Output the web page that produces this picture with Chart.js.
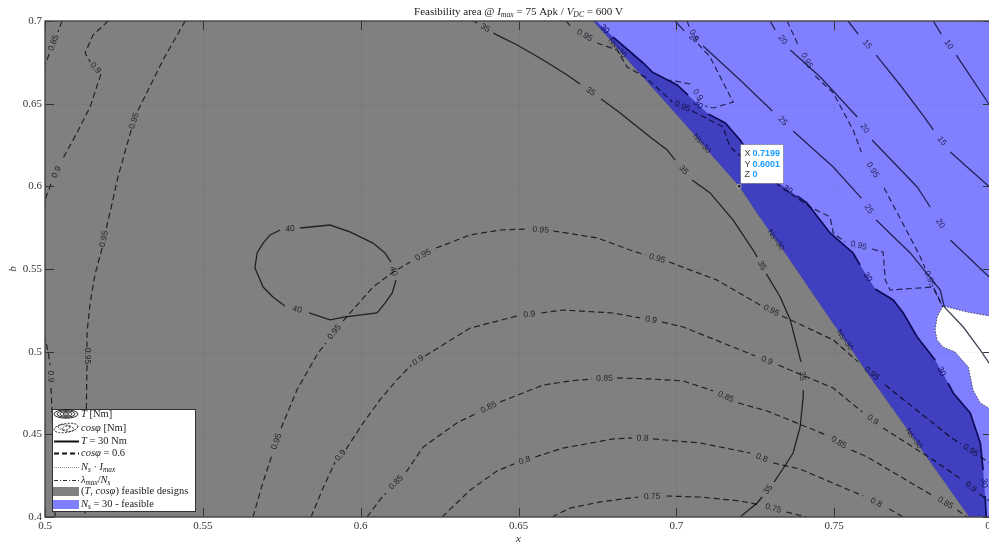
<!DOCTYPE html>
<html>
<head>
<meta charset="utf-8">
<script src="https://cdn.jsdelivr.net/npm/chart.js@4.4.1/dist/chart.umd.min.js"></script>
<style>
  html, body { margin: 0; padding: 0; background: #fff; overflow: hidden; }
  #wrap { position: relative; width: 1005px; height: 544px; }
</style>
</head>
<body>
<div id="wrap"><canvas id="c" width="1005" height="544"></canvas></div>
<script>
// ---- axes ----
const X_TICK_VALUES = [0.5, 0.55, 0.6, 0.65, 0.7, 0.75, 0.8];
const X_TICK_LABELS = ['0.5', '0.55', '0.6', '0.65', '0.7', '0.75', '0.8'];
const Y_TICK_VALUES = [0.4, 0.45, 0.5, 0.55, 0.6, 0.65, 0.7];
const Y_TICK_LABELS = ['0.4', '0.45', '0.5', '0.55', '0.6', '0.65', '0.7'];

// GAP marks where a contour line is broken for its level label
const GAP = null;

// ---- region edges (x, b) ----
// edge of the (T, cos phi) feasible set, labelled Ns=30
const BOUNDARY = [[0.6736,0.7],[0.6771,0.6927],GAP,[0.6854,0.6746],[0.6971,0.6498],[0.7044,0.6341],GAP,[0.7117,0.6177],[0.7199,0.6001],[0.7266,0.5808],GAP,[0.7364,0.5542],[0.7500,0.5161],GAP,[0.7567,0.4980],[0.7598,0.4889],[0.7722,0.4556],GAP,[0.7782,0.4393],[0.7928,0.4]];
// T = 30 Nm contour for Ns = 30
const T30 = [[0.6746,0.7],GAP,[0.6800,0.6903],[0.6895,0.6746],[0.6923,0.6692],[0.7003,0.6613],[0.7037,0.6552],GAP,[0.7101,0.6438],[0.7155,0.6383],[0.7202,0.6280],[0.7266,0.6099],[0.7323,0.6020],GAP,[0.7383,0.5942],[0.7414,0.5899],[0.7487,0.5718],[0.7560,0.5597],[0.7582,0.5524],GAP,[0.7630,0.5379],[0.7687,0.5313],[0.7719,0.5234],[0.7763,0.5089],[0.7820,0.4950],GAP,[0.7861,0.4810],[0.7877,0.4750],[0.7931,0.4629],[0.7963,0.4448],[0.7972,0.4284],GAP,[0.7978,0.4127],[0.7982,0.4]];
// infeasible pocket at the right edge
const NOTCH = [[0.7820,0.5131],[0.7826,0.5210],[0.7845,0.5276],[0.7921,0.5240],[0.8010,0.5210],[0.8010,0.4635],[0.7963,0.4690],[0.7940,0.4768],[0.7925,0.4907],[0.7883,0.4998],[0.7845,0.5028],[0.7826,0.5071],[0.7820,0.5131]];

// ---- torque contours [Nm] ----
const T40 = [[0.6112,0.5433],[0.6100,0.5355],[0.6077,0.5294],[0.6052,0.5234],[0.5951,0.5210],[0.5903,0.5192],[0.5837,0.5234],GAP,[0.5760,0.5276],[0.5722,0.5331],[0.5691,0.5391],[0.5665,0.5506],[0.5672,0.5597],[0.5691,0.5657],[0.5713,0.5706],[0.5745,0.5736],GAP,[0.5808,0.5748],[0.5903,0.5766],[0.5966,0.5724],[0.6039,0.5657],[0.6077,0.5597],[0.6096,0.5542],GAP,[0.6112,0.5433]];
const T35 = [[0.6356,0.7],[0.6369,0.6988],GAP,[0.6420,0.6927],[0.6496,0.6855],[0.6578,0.6764],[0.6654,0.6673],[0.6695,0.6619],GAP,[0.6762,0.6528],[0.6822,0.6444],[0.6917,0.6298],[0.6971,0.6220],[0.6996,0.6159],GAP,[0.7050,0.6038],[0.7107,0.5960],[0.7180,0.5796],[0.7243,0.5615],[0.7256,0.5573],GAP,[0.7285,0.5470],[0.7329,0.5331],[0.7361,0.5192],[0.7383,0.5028],[0.7395,0.4938],GAP,[0.7402,0.4768],[0.7402,0.4726],[0.7392,0.4544],[0.7370,0.4387],[0.7329,0.4266],[0.7310,0.4212],GAP,[0.7272,0.4121],[0.7256,0.4085],[0.7202,0.4]];
const T25 = [[0.6996,0.7],[0.7025,0.6940],GAP,[0.7085,0.6849],[0.7202,0.6643],[0.7304,0.6456],GAP,[0.7370,0.6335],[0.7497,0.6117],[0.7586,0.5929],GAP,[0.7633,0.5796],[0.7741,0.5597],[0.7836,0.5373],[0.7849,0.5270],[0.7909,0.5149],[0.7963,0.5010],[0.8010,0.4877]];
const T20 = [[0.7297,0.7],[0.7313,0.6946],GAP,[0.7361,0.6825],[0.7456,0.6661],[0.7573,0.6419],GAP,[0.7620,0.6280],[0.7763,0.5996],[0.7804,0.5875],GAP,[0.7868,0.5675],[0.7991,0.5452],[0.8010,0.5415]];
const T15 = [[0.7544,0.7],[0.7576,0.6921],GAP,[0.7633,0.6794],[0.7709,0.6613],[0.7788,0.6413],[0.7814,0.6341],GAP,[0.7868,0.6208],[0.7921,0.6117],[0.8010,0.5966]];
const T10 = [[0.7814,0.7],[0.7839,0.6921],GAP,[0.7887,0.6794],[0.7988,0.6504],[0.8010,0.6444]];

// ---- power factor contours ----
const C085_EDGE = [[0.5054,0.7],[0.5041,0.6934],GAP,[0.5013,0.6800],[0.5003,0.6746],[0.4995,0.6720]];
const C090_EDGE = [[0.5200,0.7],[0.5152,0.6915],[0.5127,0.6806],[0.5143,0.6752],GAP,[0.5177,0.6679],[0.5143,0.6480],[0.5101,0.6323],[0.5054,0.6159],GAP,[0.5019,0.6014],[0.5003,0.5935],[0.4994,0.5796],[0.4994,0.5131],[0.5010,0.5],[0.5016,0.4919],GAP,[0.5019,0.4780],[0.5025,0.4526],[0.5032,0.4]];
const C095_EDGE = [[0.5444,0.7],[0.5374,0.6764],[0.5292,0.6450],GAP,[0.5273,0.6341],[0.5231,0.6056],[0.5215,0.5917],[0.5193,0.5736],GAP,[0.5181,0.5627],[0.5158,0.5464],[0.5143,0.5294],[0.5133,0.5113],[0.5133,0.5028],GAP,[0.5133,0.4919],[0.5130,0.4526],[0.5127,0.4]];
const C095 = [[0.5659,0.4],[0.5688,0.4194],[0.5719,0.4375],GAP,[0.5748,0.4538],[0.5798,0.4768],[0.5865,0.4992],[0.5890,0.5052],GAP,[0.5944,0.5185],[0.6039,0.5391],[0.6103,0.5482],[0.6157,0.5542],GAP,[0.6239,0.5627],[0.6347,0.5706],[0.6442,0.5736],[0.6530,0.5742],GAP,[0.6610,0.5730],[0.6749,0.5688],[0.6854,0.5615],[0.6901,0.5585],GAP,[0.6977,0.5542],[0.7129,0.5433],[0.7266,0.5282],GAP,[0.7335,0.5216],[0.7497,0.5071],[0.7576,0.4938],GAP,[0.7662,0.4798],[0.7709,0.4726],[0.7868,0.4484],[0.7902,0.4442],GAP,[0.7963,0.4363],[0.8010,0.4308]];
const C090 = [[0.5843,0.4],[0.5878,0.4163],[0.5919,0.4333],GAP,[0.5954,0.4411],[0.6008,0.4569],[0.6061,0.4708],[0.6115,0.4829],[0.6160,0.4919],GAP,[0.6204,0.4974],[0.6347,0.5143],[0.6496,0.5216],GAP,[0.6572,0.5234],[0.6641,0.5252],[0.6800,0.5234],[0.6885,0.5204],GAP,[0.6955,0.5179],[0.7022,0.5149],[0.7180,0.5028],[0.7250,0.4974],GAP,[0.7323,0.4919],[0.7497,0.4780],[0.7589,0.4635],GAP,[0.7655,0.4538],[0.7814,0.4345],[0.7906,0.4224],GAP,[0.7960,0.4139],[0.8010,0.4073]];
const C085 = [[0.6020,0.4],[0.6061,0.4103],[0.6080,0.4145],GAP,[0.6144,0.4272],[0.6198,0.4423],[0.6305,0.4569],[0.6369,0.4629],GAP,[0.6442,0.4696],[0.6578,0.4798],[0.6663,0.4823],[0.6733,0.4835],GAP,[0.6812,0.4841],[0.6917,0.4835],[0.7022,0.4823],[0.7117,0.4762],GAP,[0.7196,0.4690],[0.7288,0.4641],[0.7475,0.4496],GAP,[0.7554,0.4405],[0.7605,0.4363],[0.7814,0.4127],GAP,[0.7890,0.4042],[0.7921,0.4]];
const C080 = [[0.6258,0.4],[0.6347,0.4163],[0.6432,0.4278],[0.6486,0.4321],GAP,[0.6553,0.4363],[0.6641,0.4417],[0.6800,0.4472],[0.6860,0.4478],GAP,[0.6926,0.4472],[0.7075,0.4448],[0.7234,0.4387],GAP,[0.7307,0.4327],[0.7392,0.4290],[0.7592,0.4127],GAP,[0.7674,0.4048],[0.7719,0.4]];
const C075 = [[0.6606,0.4],[0.6663,0.4054],[0.6759,0.4091],[0.6879,0.4121],GAP,[0.6968,0.4127],[0.7075,0.4121],[0.7202,0.4097],[0.7266,0.4073],GAP,[0.7348,0.4030],[0.7414,0.4]];
const C095_NS30 = [[0.7351,0.7],[0.7386,0.6855],GAP,[0.7440,0.6667],[0.7497,0.6565],[0.7560,0.6341],[0.7586,0.6208],GAP,[0.7658,0.5990],[0.7700,0.5839],[0.7773,0.5573],[0.7788,0.5506],GAP,[0.7817,0.5373],[0.7845,0.5270]];
const C095_BAND = [[0.6651,0.7],[0.6670,0.6958],GAP,[0.6749,0.6867],[0.6812,0.6825],[0.6844,0.6722],[0.6901,0.6661],[0.6965,0.6552],[0.6987,0.6510],GAP,[0.7050,0.6456],[0.7148,0.6359],[0.7170,0.6238],[0.7218,0.6159],[0.7345,0.5978],[0.7424,0.5875],[0.7487,0.5815],[0.7497,0.5718],[0.7535,0.5663],GAP,[0.7620,0.5621],[0.7655,0.5603],[0.7662,0.5433],[0.7677,0.5373],[0.7814,0.5391],[0.7845,0.5270]];
const C090_BAND = [[0.7034,0.7],[0.7041,0.6964],GAP,[0.7069,0.6861],[0.7107,0.6782],[0.7180,0.6510],[0.7117,0.6474],[0.7091,0.6486],GAP,[0.7044,0.6619],[0.6980,0.6643]];

// data tip on the feasibility edge: x, b, z
const DATATIP = [0.7199, 0.6001, 0];

// ---- text ----
const TITLE_RUNS = [{t:'Feasibility area @ '},{t:'I',it:1},{t:'max',it:1,sub:1},{t:' = 75 Apk / '},{t:'V',it:1},{t:'DC',it:1,sub:1},{t:' = 600 V'}];
const LEGEND_ITEMS = [
  [{t:'T',it:1},{t:' [Nm]'}],
  [{t:'cosφ',it:1},{t:' [Nm]'}],
  [{t:'T',it:1},{t:' = 30 Nm'}],
  [{t:'cosφ',it:1},{t:' = 0.6'}],
  [{t:'N',it:1},{t:'s',it:1,sub:1},{t:' · '},{t:'I',it:1},{t:'max',it:1,sub:1}],
  [{t:'λ',it:1},{t:'max',it:1,sub:1},{t:'/'},{t:'N',it:1},{t:'s',it:1,sub:1}],
  [{t:'('},{t:'T',it:1},{t:', '},{t:'cosφ',it:1},{t:') feasible designs'}],
  [{t:'N',it:1},{t:'s',it:1,sub:1},{t:' = 30 - feasible'}]
];

// ---- colours ----
const GRAY = '#808080', LIGHT_BLUE = '#8080ff', DARK_BLUE = '#3f3fbf';
const INK = 'rgba(0,0,0,0.74)';
const NAVY_INK = 'rgba(0,0,30,0.74)';

function toPoints(arr) {
  return arr.map((p, i) => {
    if (p) return {x: p[0], y: p[1]};
    const a = arr[i - 1], b = arr[i + 1];
    return {x: (a[0] + b[0]) / 2, y: null};
  });
}
function solidPoints(arr) { return arr.filter(Boolean).map(p => ({x: p[0], y: p[1]})); }

function contour(arr, text, color, width, dash) {
  return {
    data: toPoints(arr), showLine: true, pointRadius: 0, borderColor: color,
    borderWidth: width, borderDash: dash || [], fill: false, order: 10,
    spanGaps: false, contourLabel: text, labelColor: color
  };
}
const DASH = [6, 3.5];

const datasets = [
  {data: [{x: 0.5, y: 0.7}].concat(solidPoints(T30)), showLine: true, pointRadius: 0, borderWidth: 0,
   backgroundColor: DARK_BLUE, fill: 'origin', order: 100},
  {data: [{x: 0.5, y: 0.7}].concat(solidPoints(BOUNDARY)), showLine: true, pointRadius: 0, borderWidth: 0,
   backgroundColor: GRAY, fill: 'origin', order: 99},
  {data: solidPoints(NOTCH), showLine: true, pointRadius: 0, borderWidth: 1, borderColor: 'rgba(0,0,0,0.6)',
   borderDash: [1.5, 1.5], backgroundColor: '#ffffff', fill: 'shape', order: 98},

  contour(BOUNDARY, 'Ns=30', 'rgba(0,0,0,0.3)', 0.8, [1, 2]),
  contour(T40, '40', INK, 1.3),
  contour(T35, '35', INK, 1.3),
  contour(C085_EDGE, '0.85', INK, 1.2, DASH),
  contour(C090_EDGE, '0.9', INK, 1.2, DASH),
  contour(C095_EDGE, '0.95', INK, 1.2, DASH),
  contour(C095, '0.95', INK, 1.2, DASH),
  contour(C090, '0.9', INK, 1.2, DASH),
  contour(C085, '0.85', INK, 1.2, DASH),
  contour(C080, '0.8', INK, 1.2, DASH),
  contour(C075, '0.75', INK, 1.2, DASH),
  contour(C095_BAND, '0.95', NAVY_INK, 1.2, DASH),
  contour(C090_BAND, '0.9', NAVY_INK, 1.2, DASH),
  contour(C095_NS30, '0.95', NAVY_INK, 1.2, DASH),
  contour(T25, '25', NAVY_INK, 1.3),
  contour(T20, '20', NAVY_INK, 1.3),
  contour(T15, '15', NAVY_INK, 1.3),
  contour(T10, '10', NAVY_INK, 1.3),
  contour(T30, '30', '#0c0c5c', 1.7)
];

function drawRuns(ctx, runs, x, y, size, align, color) {
  const fam = '"Liberation Serif", "DejaVu Serif", serif';
  const fontOf = r => (r.it ? 'italic ' : '') + (r.sub ? (size * 0.7).toFixed(1) : size) + 'px ' + fam;
  let w = 0;
  const widths = runs.map(r => { ctx.font = fontOf(r); const m = ctx.measureText(r.t).width; w += m; return m; });
  let cx = align === 'center' ? x - w / 2 : x;
  ctx.textAlign = 'left';
  ctx.textBaseline = 'middle';
  ctx.fillStyle = color || '#222';
  runs.forEach((r, i) => {
    ctx.font = fontOf(r);
    ctx.fillText(r.t, cx, y + (r.sub ? size * 0.3 : 0));
    cx += widths[i];
  });
}

// light blue background for the Ns = 30 feasible area
const backgroundPlugin = {
  id: 'areaBackground',
  beforeDatasetsDraw(chart) {
    const {ctx, chartArea: a} = chart;
    ctx.save();
    ctx.fillStyle = LIGHT_BLUE;
    ctx.fillRect(a.left, a.top, a.right - a.left, a.bottom - a.top);
    ctx.restore();
  },
  afterDatasetDraw(chart, args) {
    if (args.index !== 2) return;
    // faint grid over the filled regions
    const {ctx, chartArea: a, scales: {x, y}} = chart;
    ctx.save();
    ctx.strokeStyle = 'rgba(0,0,0,0.035)';
    ctx.lineWidth = 1;
    X_TICK_VALUES.forEach(v => {
      const px = Math.round(x.getPixelForValue(v)) + 0.5;
      ctx.beginPath(); ctx.moveTo(px, a.top); ctx.lineTo(px, a.bottom); ctx.stroke();
    });
    Y_TICK_VALUES.forEach(v => {
      const py = Math.round(y.getPixelForValue(v)) + 0.5;
      ctx.beginPath(); ctx.moveTo(a.left, py); ctx.lineTo(a.right, py); ctx.stroke();
    });
    ctx.restore();
  }
};

// level labels written into the breaks of each contour line
const labelPlugin = {
  id: 'contourLabels',
  afterDatasetsDraw(chart) {
    const {ctx, chartArea: a, scales: {x, y}} = chart;
    ctx.save();
    ctx.beginPath();
    ctx.rect(a.left, a.top, a.right - a.left, a.bottom - a.top);
    ctx.clip();
    chart.data.datasets.forEach(ds => {
      if (!ds.contourLabel) return;
      const d = ds.data;
      for (let i = 1; i < d.length - 1; i++) {
        if (d[i].y !== null) continue;
        const p = d[i - 1], q = d[i + 1];
        const ax = x.getPixelForValue(p.x), ay = y.getPixelForValue(p.y);
        const bx = x.getPixelForValue(q.x), by = y.getPixelForValue(q.y);
        let ang = Math.atan2(by - ay, bx - ax);
        if (ang > Math.PI / 2) ang -= Math.PI;
        if (ang < -Math.PI / 2) ang += Math.PI;
        ctx.save();
        ctx.translate((ax + bx) / 2, (ay + by) / 2);
        ctx.rotate(ang);
        ctx.font = (ds.contourLabel === 'Ns=30' ? '8px' : '8.5px') + ' "Liberation Sans", Arial, sans-serif';
        ctx.fillStyle = ds.contourLabel === 'Ns=30' ? 'rgba(0,0,0,0.7)' : ds.labelColor;
        ctx.textAlign = 'center';
        ctx.textBaseline = 'middle';
        ctx.fillText(ds.contourLabel, 0, 0);
        ctx.restore();
      }
    });
    ctx.restore();
  }
};

// axes box, inward ticks, titles, legend and data tip
const framePlugin = {
  id: 'frame',
  afterDatasetsDraw(chart) {
    const {ctx, chartArea: a, scales: {x, y}} = chart;
    ctx.save();
    // inward tick marks
    ctx.strokeStyle = '#333';
    ctx.lineWidth = 1;
    X_TICK_VALUES.forEach(v => {
      const px = Math.round(x.getPixelForValue(v)) + 0.5;
      ctx.beginPath(); ctx.moveTo(px, a.bottom); ctx.lineTo(px, a.bottom - 9);
      ctx.moveTo(px, a.top); ctx.lineTo(px, a.top + 9); ctx.stroke();
    });
    Y_TICK_VALUES.forEach(v => {
      const py = Math.round(y.getPixelForValue(v)) + 0.5;
      ctx.beginPath(); ctx.moveTo(a.left, py); ctx.lineTo(a.left + 9, py);
      ctx.moveTo(a.right, py); ctx.lineTo(a.right - 9, py); ctx.stroke();
    });
    // box
    ctx.strokeStyle = '#444';
    ctx.lineWidth = 1.4;
    ctx.strokeRect(a.left, a.top, a.right - a.left, a.bottom - a.top);

    // title and axis names
    const cx = (a.left + a.right) / 2;
    drawRuns(ctx, TITLE_RUNS, cx, 12, 11, 'center', '#222');
    drawRuns(ctx, [{t: 'x', it: 1}], cx, 539, 11, 'center', '#333');
    ctx.save();
    ctx.translate(13, (a.top + a.bottom) / 2);
    ctx.rotate(-Math.PI / 2);
    drawRuns(ctx, [{t: 'b', it: 1}], 0, 0, 11, 'center', '#333');
    ctx.restore();

    // legend
    const lx = 52, ly = 409, lw = 143, lh = 102;
    ctx.fillStyle = '#fff';
    ctx.fillRect(lx, ly, lw, lh);
    ctx.strokeStyle = '#333';
    ctx.lineWidth = 1;
    ctx.strokeRect(lx + 0.5, ly + 0.5, lw, lh);
    const rows = [414, 428, 441, 453, 467, 480, 491, 504];
    const ix0 = 54, ix1 = 79, icx = 66;
    ctx.strokeStyle = '#111';
    // concentric rings
    ctx.lineWidth = 0.9;
    [[12, 4.2], [9, 3.2], [6, 2.2], [3, 1.2]].forEach(([rx, ry]) => {
      ctx.beginPath(); ctx.ellipse(icx, rows[0], rx, ry, 0, 0, Math.PI * 2); ctx.stroke();
    });
    // dashed rings
    ctx.setLineDash([2, 1.3]);
    [[12, 4.5, -0.15], [8, 3, 0.2], [4, 1.8, -0.3]].forEach(([rx, ry, r]) => {
      ctx.beginPath(); ctx.ellipse(icx, rows[1], rx, ry, r, 0, Math.PI * 2); ctx.stroke();
    });
    ctx.setLineDash([]);
    // line samples
    const sample = (row, w, dash, col) => {
      ctx.beginPath(); ctx.setLineDash(dash); ctx.lineWidth = w; ctx.strokeStyle = col;
      ctx.moveTo(ix0, row + 0.5); ctx.lineTo(ix1, row + 0.5); ctx.stroke(); ctx.setLineDash([]);
    };
    sample(rows[2], 2, [], '#111');
    sample(rows[3], 2, [5, 3], '#111');
    sample(rows[4], 0.8, [1, 1], '#777');
    sample(rows[5], 1, [4, 2, 1, 2], '#333');
    ctx.fillStyle = GRAY; ctx.fillRect(ix0 - 1, rows[6] - 4, 26, 9);
    ctx.fillStyle = LIGHT_BLUE; ctx.fillRect(ix0 - 1, rows[7] - 4, 26, 9);
    LEGEND_ITEMS.forEach((runs, i) => drawRuns(ctx, runs, 81, rows[i], 10.5, 'left', '#222'));

    // data tip
    const tx = x.getPixelForValue(DATATIP[0]), ty = y.getPixelForValue(DATATIP[1]);
    const bx = Math.round(tx) + 1.5, by = Math.round(ty) - 41.5;
    ctx.fillStyle = '#fff';
    ctx.fillRect(bx, by, 43, 39);
    ctx.strokeStyle = 'rgba(0,0,0,0.25)';
    ctx.lineWidth = 1;
    ctx.strokeRect(bx, by, 43, 39);
    ctx.beginPath(); ctx.arc(tx, ty, 2, 0, Math.PI * 2);
    ctx.fillStyle = '#222'; ctx.fill();
    ctx.strokeStyle = '#fff'; ctx.lineWidth = 0.6; ctx.stroke();
    const names = ['X', 'Y', 'Z'];
    const vals = [DATATIP[0].toFixed(4), DATATIP[1].toFixed(4), String(DATATIP[2])];
    ctx.textBaseline = 'middle';
    ctx.textAlign = 'left';
    names.forEach((n, i) => {
      const yy = by + 9.5 + i * 10.5;
      ctx.font = '9px "Liberation Sans", Arial, sans-serif';
      ctx.fillStyle = '#444';
      ctx.fillText(n, bx + 4, yy);
      ctx.font = 'bold 9px "Liberation Sans", Arial, sans-serif';
      ctx.fillStyle = '#1a9bff';
      ctx.fillText(vals[i], bx + 12, yy);
    });
    ctx.restore();
  }
};

const tickFont = {family: '"Liberation Serif", "DejaVu Serif", serif', size: 11};

new Chart(document.getElementById('c'), {
  type: 'scatter',
  data: {datasets},
  options: {
    responsive: false,
    animation: false,
    events: [],
    layout: {padding: {top: 21, right: 13, left: 0, bottom: 0}},
    plugins: {legend: {display: false}, tooltip: {enabled: false}, title: {display: false}},
    scales: {
      x: {
        type: 'linear', min: 0.5, max: 0.8,
        grid: {display: false, drawTicks: false}, border: {display: false},
        afterBuildTicks: s => { s.ticks = X_TICK_VALUES.map(v => ({value: v})); },
        afterFit: s => { s.height = 27; },
        ticks: {autoSkip: false, maxRotation: 0, padding: 3, color: '#333', font: tickFont,
                callback: (v, i) => X_TICK_LABELS[i]}
      },
      y: {
        type: 'linear', min: 0.4, max: 0.7,
        grid: {display: false, drawTicks: false}, border: {display: false},
        afterBuildTicks: s => { s.ticks = Y_TICK_VALUES.map(v => ({value: v})); },
        afterFit: s => { s.width = 45; },
        ticks: {autoSkip: false, padding: 3, color: '#333', font: tickFont,
                callback: (v, i) => Y_TICK_LABELS[i]}
      }
    }
  },
  plugins: [backgroundPlugin, labelPlugin, framePlugin]
});
</script>
</body>
</html>
